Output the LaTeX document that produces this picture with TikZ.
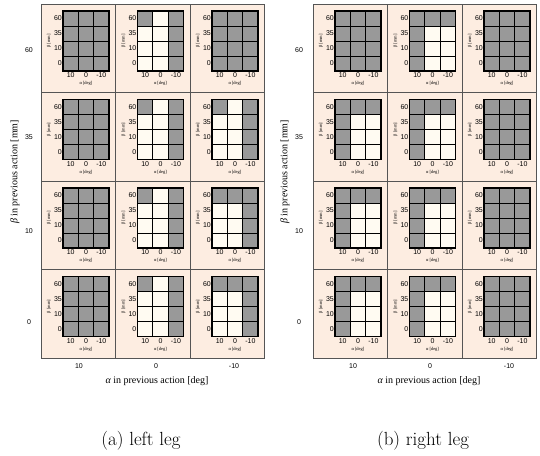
\documentclass[tikz,border=0pt]{standalone}
\usepackage{fontspec}
\newfontfamily\ticksans{Liberation Sans}
\newfontfamily\labserif{Liberation Serif}

\definecolor{peach}{RGB}{253,237,225}
\definecolor{cream}{RGB}{255,251,242}
\definecolor{cellgray}{RGB}{153,153,153}
\definecolor{framegray}{RGB}{85,85,85}

\tikzset{
  gridline/.style={black, line width=0.7pt},
  gridbox/.style={black, line width=1.1pt},
  panelline/.style={framegray, line width=1pt},
  ticklbl/.style={font=\ticksans\fontsize{7}{8}\selectfont, inner sep=0.5pt},
  unitlbl/.style={font=\labserif\fontsize{4.5}{5}\selectfont, inner sep=0pt},
  rowlbl/.style={font=\ticksans\fontsize{7}{8}\selectfont},
  axislbl/.style={font=\labserif\fontsize{10}{11}\selectfont},
  caplbl/.style={font=\fontsize{19}{22}\selectfont}
}

% gray cells as col/row (col 0 = alpha 10, row 0 = beta 60)
\def\pfull{0/0,1/0,2/0,0/1,1/1,2/1,0/2,1/2,2/2,0/3,1/3,2/3}
\def\pcorner{0/0,2/0,2/1,2/2,2/3}
\def\ptopright{0/0,1/0,2/0,2/1,2/2,2/3}
\def\ptopleft{0/0,1/0,2/0,0/1,0/2,0/3}

% one small alpha-beta map: name, x, y, gray cells
\newcommand\legcell[4]{%
  \begin{scope}[shift={(#2,#3)}]
    \fill[cream] (22,7) rectangle (68,67);
    \foreach \gc/\gr in #4 {
      \fill[cellgray] ({22+\gc*46/3},{7+\gr*15}) rectangle ++(46/3,15);
    }
    \foreach \i in {1,2} \draw[gridline] ({22+\i*46/3},7) -- ++(0,60);
    \foreach \i in {1,2,3} \draw[gridline] (22,{7+\i*15}) -- ++(46,0);
    \draw[gridbox] (22,7) rectangle (68,67);
    \foreach \b [count=\i from 0] in {60,35,10,0}
      \node[ticklbl, anchor=east] (#1-b\i) at (21.5,{14.5+15*\i}) {\b};
    \foreach \a [count=\i from 0] in {10,0,-10}
      \node[ticklbl] (#1-a\i) at ({22+46/6+\i*46/3},71.5) {\a};
    \node[unitlbl, rotate=90] (#1-bu) at (8,37) {β [mm]};
    \node[unitlbl] (#1-au) at (45,79.5) {α [deg]};
  \end{scope}}

\begin{document}
\begin{tikzpicture}[x=1pt,y=-1pt]
\useasboundingbox (0,0) rectangle (540,455);

%(a) left leg
\fill[peach] (41,4) rectangle (264.5,358);
\legcell{a11}{41}{4}{\pfull}
\legcell{a12}{115.5}{4}{\pcorner}
\legcell{a13}{190}{4}{\pfull}
\legcell{a21}{41}{92.5}{\pfull}
\legcell{a22}{115.5}{92.5}{\pcorner}
\legcell{a23}{190}{92.5}{\pcorner}
\legcell{a31}{41}{181}{\pfull}
\legcell{a32}{115.5}{181}{\pcorner}
\legcell{a33}{190}{181}{\ptopright}
\legcell{a41}{41}{269.5}{\pfull}
\legcell{a42}{115.5}{269.5}{\pcorner}
\legcell{a43}{190}{269.5}{\ptopright}
\draw[panelline] (41,4) rectangle (264.5,358);
\foreach \i in {1,2} \draw[panelline] ({41+74.5*\i},4) -- ++(0,354);
\foreach \j in {1,2,3} \draw[panelline] (41,{4+88.5*\j}) -- ++(223.5,0);

%(b) right leg
\fill[peach] (313,4) rectangle (536.5,358);
\legcell{b11}{313}{4}{\pfull}
\legcell{b12}{387.5}{4}{\ptopleft}
\legcell{b13}{462}{4}{\pfull}
\legcell{b21}{313}{92.5}{\ptopleft}
\legcell{b22}{387.5}{92.5}{\ptopleft}
\legcell{b23}{462}{92.5}{\pfull}
\legcell{b31}{313}{181}{\ptopleft}
\legcell{b32}{387.5}{181}{\ptopleft}
\legcell{b33}{462}{181}{\pfull}
\legcell{b41}{313}{269.5}{\ptopleft}
\legcell{b42}{387.5}{269.5}{\ptopleft}
\legcell{b43}{462}{269.5}{\pfull}
\draw[panelline] (313,4) rectangle (536.5,358);
\foreach \i in {1,2} \draw[panelline] ({313+74.5*\i},4) -- ++(0,354);
\foreach \j in {1,2,3} \draw[panelline] (313,{4+88.5*\j}) -- ++(223.5,0);

%previous action labels
\foreach \v/\y [count=\k] in {60/50,35/137,10/231,0/322} {
  \node[rowlbl] (ra\k) at (29,\y) {\v};
  \node[rowlbl] (rb\k) at (299,\y) {\v};
}
\foreach \v/\xa/\xb [count=\k] in {10/79/353,0/156/430,-10/234/509} {
  \node[rowlbl] (ca\k) at (\xa,366) {\v};
  \node[rowlbl] (cb\k) at (\xb,366) {\v};
}
\node[axislbl] (xa) at (157,381) {{\itshape α} in previous action [deg]};
\node[axislbl] (xb) at (429,381) {{\itshape α} in previous action [deg]};
\node[axislbl, rotate=90] (ya) at (15,172) {{\itshape β} in previous action [mm]};
\node[axislbl, rotate=90] (yb) at (285,172) {{\itshape β} in previous action [mm]};

\node[caplbl] (capa) at (141,441) {(a) left leg};
\node[caplbl] (capb) at (423,441) {(b) right leg};

\end{tikzpicture}
\end{document}
